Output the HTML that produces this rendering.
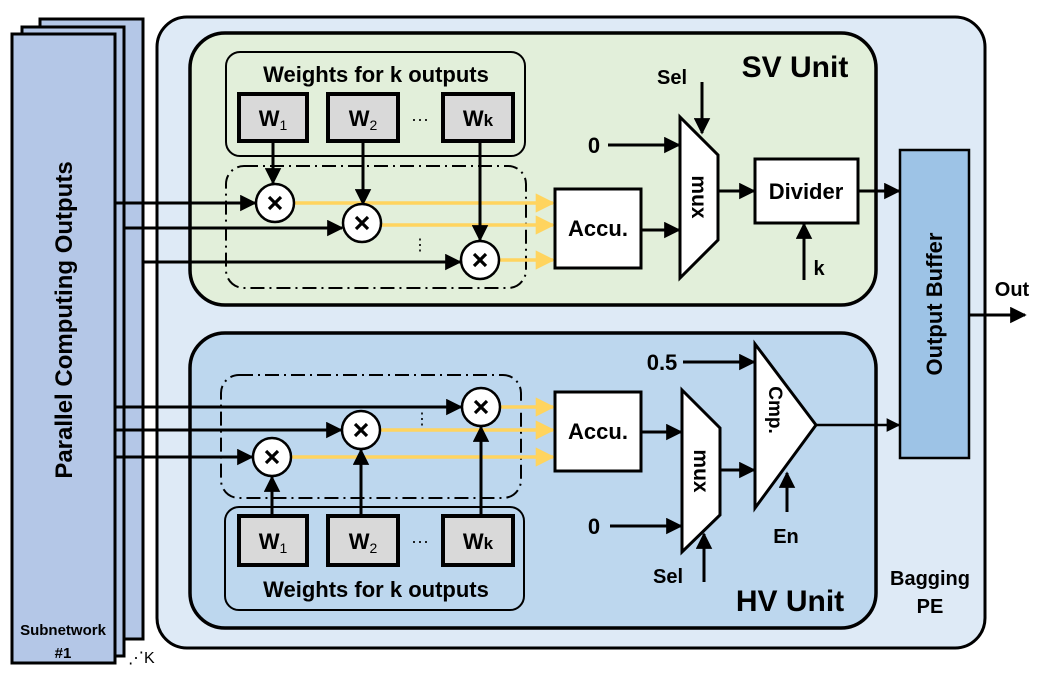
<!DOCTYPE html>
<html><head><meta charset="utf-8"><style>
body{margin:0;background:#fff}
svg{display:block;font-family:"Liberation Sans",sans-serif;font-weight:bold}
</style></head><body>
<svg width="1043" height="677" viewBox="0 0 1043 677" xmlns="http://www.w3.org/2000/svg">
<defs>
<marker id="a" viewBox="0 0 10 10" refX="9" refY="5" markerWidth="5.5" markerHeight="5.5" orient="auto"><path d="M0,0L10,5L0,10z" fill="#000"/></marker>
<marker id="y" viewBox="0 0 10 10" refX="9" refY="5" markerWidth="5.5" markerHeight="5.5" orient="auto"><path d="M0,0L10,5L0,10z" fill="#ffd45e"/></marker>
<g id="x"><circle r="19" fill="#fff" stroke="#000" stroke-width="2.5"/><path d="M-6,-6L6,6M6,-6L-6,6" stroke="#000" stroke-width="3.2"/></g>
</defs>
<rect x="40" y="19" width="103" height="620" fill="#b4c7e7" stroke="#000" stroke-width="3"/>
<rect x="22" y="27" width="102" height="629" fill="#b4c7e7" stroke="#000" stroke-width="3"/>
<rect x="12" y="34" width="103" height="629" fill="#b4c7e7" stroke="#000" stroke-width="3"/>
<text transform="translate(72,320) rotate(-90)" text-anchor="middle" font-size="24">Parallel Computing Outputs</text>
<text x="63" y="635" text-anchor="middle" font-size="15">Subnetwork</text>
<text x="63" y="658" text-anchor="middle" font-size="15">#1</text>
<text x="128" y="663" font-size="16" font-weight="normal">⋰K</text>
<rect x="157" y="17" width="828" height="631" rx="30" fill="#deeaf6" stroke="#000" stroke-width="3"/>
<text x="930" y="585" text-anchor="middle" font-size="20">Bagging</text>
<text x="930" y="613" text-anchor="middle" font-size="20">PE</text>
<rect x="190" y="33" width="686" height="272" rx="35" fill="#e2efda" stroke="#000" stroke-width="3.5"/>
<text x="795" y="77" text-anchor="middle" font-size="30">SV Unit</text>
<rect x="226" y="52" width="299" height="104" rx="14" fill="none" stroke="#000" stroke-width="2"/>
<text x="376" y="82" text-anchor="middle" font-size="22">Weights for k outputs</text>
<g fill="#d9d9d9" stroke="#000" stroke-width="4">
<rect x="239" y="94" width="68" height="47"/><rect x="328" y="94" width="70" height="47"/><rect x="443" y="94" width="70" height="47"/>
</g>
<g font-size="22" text-anchor="middle">
<text x="273" y="126">W<tspan font-size="14" font-weight="normal" dy="4">1</tspan></text>
<text x="363" y="126">W<tspan font-size="14" font-weight="normal" dy="4">2</tspan></text>
<text x="478" y="126">W<tspan font-size="17">k</tspan></text>
</g>
<text x="420" y="125" text-anchor="middle" font-size="18" font-weight="normal">···</text>
<rect x="226" y="166" width="300" height="122" rx="18" fill="none" stroke="#000" stroke-width="2" stroke-dasharray="14,5,2,5"/>
<g stroke="#ffd45e" stroke-width="3.5" marker-end="url(#y)">
<line x1="294" y1="203" x2="553" y2="203"/><line x1="381" y1="225" x2="553" y2="225"/><line x1="499" y1="260" x2="553" y2="260"/>
</g>
<g stroke="#000" stroke-width="3" fill="none">
<line x1="115" y1="407" x2="192" y2="407"/><line x1="115" y1="430" x2="192" y2="430"/><line x1="115" y1="457" x2="192" y2="457"/>
</g>
<g stroke="#000" stroke-width="3" fill="none" marker-end="url(#a)">
<line x1="115" y1="203" x2="255" y2="203"/><line x1="124" y1="228" x2="342" y2="228"/><line x1="143" y1="262" x2="460" y2="262"/>
<line x1="273" y1="141" x2="273" y2="183"/><line x1="363" y1="141" x2="363" y2="204"/><line x1="480" y1="141" x2="480" y2="240"/>
<line x1="608" y1="145" x2="679" y2="145"/><line x1="641" y1="230" x2="679" y2="230"/><line x1="702" y1="82" x2="702" y2="133"/>
<line x1="718" y1="191" x2="754" y2="191"/><line x1="804" y1="280" x2="804" y2="224"/><line x1="858" y1="191" x2="899" y2="191"/>
<line x1="969" y1="315" x2="1025" y2="315"/>
</g>
<use href="#x" x="275" y="203"/><use href="#x" x="362" y="223"/><use href="#x" x="480" y="260"/>
<text x="420" y="250" text-anchor="middle" font-size="16" font-weight="normal">⋮</text>
<rect x="555" y="189" width="86" height="79" fill="#fff" stroke="#000" stroke-width="3"/>
<text x="598" y="236" text-anchor="middle" font-size="22">Accu.</text>
<path d="M680,117L718,155L718,240L680,278Z" fill="#fff" stroke="#000" stroke-width="3"/>
<text transform="translate(692,197) rotate(90)" text-anchor="middle" font-size="21">mux</text>
<text x="672" y="84" text-anchor="middle" font-size="20">Sel</text>
<text x="594" y="153" text-anchor="middle" font-size="22">0</text>
<rect x="755" y="159" width="103" height="64" fill="#fff" stroke="#000" stroke-width="3"/>
<text x="806" y="199" text-anchor="middle" font-size="22">Divider</text>
<text x="819" y="275" text-anchor="middle" font-size="20">k</text>
<rect x="190" y="333" width="686" height="295" rx="35" fill="#bdd7ee" stroke="#000" stroke-width="3.5"/>
<text x="790" y="611" text-anchor="middle" font-size="30">HV Unit</text>
<rect x="225" y="507" width="299" height="103" rx="14" fill="none" stroke="#000" stroke-width="2"/>
<text x="376" y="597" text-anchor="middle" font-size="22">Weights for k outputs</text>
<rect x="221" y="375" width="300" height="123" rx="18" fill="none" stroke="#000" stroke-width="2" stroke-dasharray="14,5,2,5"/>
<text x="422" y="424" text-anchor="middle" font-size="16" font-weight="normal">⋮</text>
<g stroke="#ffd45e" stroke-width="3.5" marker-end="url(#y)">
<line x1="500" y1="407" x2="553" y2="407"/><line x1="380" y1="430" x2="553" y2="430"/><line x1="291" y1="457" x2="553" y2="457"/>
</g>
<g fill="#d9d9d9" stroke="#000" stroke-width="4">
<rect x="239" y="516" width="68" height="49"/><rect x="328" y="516" width="70" height="49"/><rect x="443" y="516" width="70" height="49"/>
</g>
<g font-size="22" text-anchor="middle">
<text x="273" y="549">W<tspan font-size="14" font-weight="normal" dy="4">1</tspan></text>
<text x="363" y="549">W<tspan font-size="14" font-weight="normal" dy="4">2</tspan></text>
<text x="478" y="549">W<tspan font-size="17">k</tspan></text>
</g>
<text x="420" y="547" text-anchor="middle" font-size="18" font-weight="normal">···</text>
<g stroke="#000" stroke-width="3" fill="none" marker-end="url(#a)">
<line x1="188" y1="407" x2="461" y2="407"/><line x1="188" y1="430" x2="341" y2="430"/><line x1="188" y1="457" x2="252" y2="457"/>
<line x1="272" y1="516" x2="272" y2="477"/><line x1="361" y1="516" x2="361" y2="450"/><line x1="481" y1="516" x2="481" y2="427"/>
<line x1="641" y1="432" x2="681" y2="432"/><line x1="610" y1="526" x2="681" y2="526"/><line x1="704" y1="582" x2="704" y2="534"/>
<line x1="720" y1="470" x2="754" y2="470"/><line x1="683" y1="362" x2="754" y2="362"/><line x1="787" y1="512" x2="787" y2="473"/>
</g>
<line x1="816" y1="425" x2="899" y2="425" stroke="#000" stroke-width="2.5" marker-end="url(#a)"/>
<use href="#x" x="481" y="407"/><use href="#x" x="361" y="430"/><use href="#x" x="272" y="457"/>
<rect x="555" y="392" width="86" height="79" fill="#fff" stroke="#000" stroke-width="3"/>
<text x="598" y="439" text-anchor="middle" font-size="22">Accu.</text>
<path d="M682,390L720,428L720,515L682,552Z" fill="#fff" stroke="#000" stroke-width="3"/>
<text transform="translate(694,471) rotate(90)" text-anchor="middle" font-size="21">mux</text>
<text x="594" y="534" text-anchor="middle" font-size="22">0</text>
<text x="668" y="583" text-anchor="middle" font-size="20">Sel</text>
<path d="M755,344L816,425L755,508Z" fill="#fff" stroke="#000" stroke-width="3"/>
<text transform="translate(769,410) rotate(90)" text-anchor="middle" font-size="19">Cmp.</text>
<text x="662" y="370" text-anchor="middle" font-size="22">0.5</text>
<text x="786" y="543" text-anchor="middle" font-size="20">En</text>
<rect x="900" y="150" width="69" height="308" fill="#9dc3e6" stroke="#000" stroke-width="2.5"/>
<text transform="translate(942,304) rotate(-90)" text-anchor="middle" font-size="22">Output Buffer</text>
<text x="1012" y="296" text-anchor="middle" font-size="20">Out</text>
</svg>
</body></html>
